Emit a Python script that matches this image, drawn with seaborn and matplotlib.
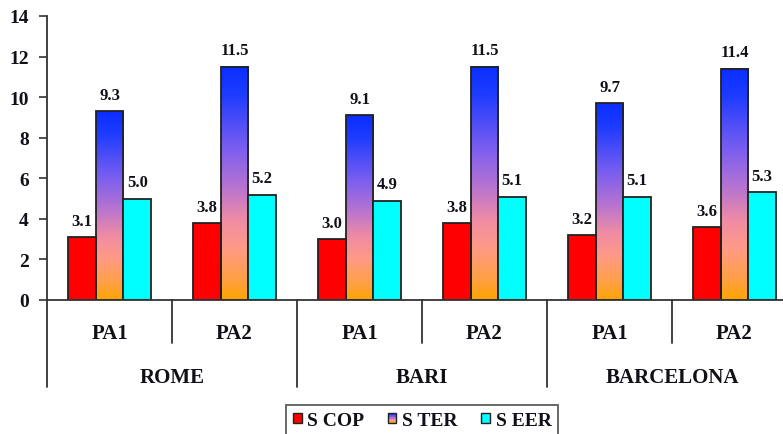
import numpy as np
import pandas as pd
import matplotlib
matplotlib.use("Agg")
import matplotlib.pyplot as plt
import seaborn as sns
from matplotlib.colors import LinearSegmentedColormap, to_rgb
from matplotlib.patches import Patch, Rectangle
from matplotlib.legend_handler import HandlerBase
from matplotlib.transforms import blended_transform_factory

# ---- data ----
cities = ["ROME", "BARI", "BARCELONA"]
pas = ["PA1", "PA2"]
series = ["S COP", "S TER", "S EER"]
scop = [3.1, 3.8, 3.0, 3.8, 3.2, 3.6]
ster = [9.3, 11.5, 9.1, 11.5, 9.7, 11.4]
seer = [5.0, 5.2, 4.9, 5.1, 5.1, 5.3]
yticks = [0, 2, 4, 6, 8, 10, 12, 14]

cats = [f"{c}|{p}" for c in cities for p in pas]
rows = []
for name, vals in zip(series, [scop, ster, seer]):
    for cat, v in zip(cats, vals):
        rows.append({"cat": cat, "series": name, "value": v})
df = pd.DataFrame(rows)

sns.set_theme(style="white")
plt.rcParams["font.family"] = ["Liberation Serif", "DejaVu Serif"]
plt.rcParams["font.weight"] = "bold"

RED = "#FF0000"
CYAN = "#00FFFF"
STER_KEY = "#7F7F7F"
grad = LinearSegmentedColormap.from_list(
    "ster", [(0.0, "#0A2EFF"), (0.12, "#1E3CFF"), (0.35, "#7A5EF0"),
             (0.52, "#B874D0"), (0.66, "#F08CA4"), (0.78, "#FF9A86"),
             (0.92, "#FFA040"), (1.0, "#FFA500")])
TXT = "#101018"
EDGE = "#222222"

W, H = 783, 435
fig = plt.figure(figsize=(W / 100, H / 100), dpi=100)
fig.patch.set_facecolor("white")
ax_l, ax_b, ax_w, ax_h = 47, 134, 750, 284
ax = fig.add_axes([ax_l / W, ax_b / H, ax_w / W, ax_h / H])

sns.barplot(data=df, x="cat", y="value", hue="series", order=cats,
            hue_order=series, palette=[RED, STER_KEY, CYAN], width=0.665,
            edgecolor=EDGE, linewidth=1.3, saturation=1, legend=False,
            errorbar=None, ax=ax)

# gradient fill for S TER bars
for p in list(ax.patches):
    if np.allclose(p.get_facecolor()[:3], to_rgb(STER_KEY)):
        x0, y0 = p.get_x(), p.get_y()
        w, h = p.get_width(), p.get_height()
        ax.imshow(np.linspace(0, 1, 256).reshape(-1, 1), cmap=grad,
                  extent=[x0, x0 + w, y0, y0 + h], aspect="auto",
                  interpolation="bilinear", zorder=p.get_zorder() - 0.1)
        p.set_facecolor("none")

ax.set_xlim(-0.5, len(cats) - 0.5)
ax.set_ylim(0, 14)
ax.set_yticks(yticks)
ax.set_yticklabels([str(t) for t in yticks], fontsize=14, fontweight="bold",
                   color=TXT)
ax.tick_params(axis="y", direction="out", length=6, width=1.2, color="#333",
               pad=7, left=True)
ax.set_xticks([])
ax.set_xlabel("")
ax.set_ylabel("")
for s in ["top", "right"]:
    ax.spines[s].set_visible(False)
for s in ["left", "bottom"]:
    ax.spines[s].set_color("#333")
    ax.spines[s].set_linewidth(1.3)

# value labels
for cont, vals in zip(ax.containers, [scop, ster, seer]):
    ax.bar_label(cont, labels=[f"{v:.1f}" for v in vals], padding=6,
                 fontsize=12, fontweight="bold", color=TXT,
                 bbox=dict(facecolor="white", edgecolor="none", pad=1.0),
                 zorder=10)

# multi-level category axis
tr = blended_transform_factory(ax.transData, ax.transAxes)
short_y = -43 / ax_h
long_y = -87 / ax_h
for i in range(len(cats) + 1):
    xb = i - 0.5
    if i % 2 == 0:
        ax.plot([xb, xb], [0, long_y], color="#333", lw=1.3, transform=tr,
                clip_on=False)
    else:
        ax.plot([xb, xb], [0, short_y], color="#333", lw=1.3, transform=tr,
                clip_on=False)
for i, cat in enumerate(cats):
    ax.text(i, -33 / ax_h, cat.split("|")[1], transform=tr, ha="center",
            va="center", fontsize=15, fontweight="bold", color=TXT)
for j, c in enumerate(cities):
    ax.text(2 * j + 0.5, -77 / ax_h, c, transform=tr, ha="center",
            va="center", fontsize=15, fontweight="bold", color=TXT)


# legend
class GradHandler(HandlerBase):
    def create_artists(self, legend, orig_handle, xdescent, ydescent,
                       width, height, fontsize, trans):
        n = 16
        arts = []
        for k in range(n):
            r = Rectangle((-xdescent, -ydescent + height * (1 - (k + 1) / n)),
                          width, height / n, facecolor=grad(k / (n - 1)),
                          edgecolor="none", transform=trans)
            arts.append(r)
        arts.append(Rectangle((-xdescent, -ydescent), width, height,
                              facecolor="none", edgecolor=EDGE, lw=1.0,
                              transform=trans))
        return arts


h_cop = Patch(facecolor=RED, edgecolor=EDGE, lw=1.0)
h_ter = Patch(facecolor="none", edgecolor=EDGE)
h_eer = Patch(facecolor=CYAN, edgecolor=EDGE, lw=1.0)
leg = fig.legend([h_cop, h_ter, h_eer], series, loc="upper left",
                 bbox_to_anchor=(286 / W, 1 - 406 / H), ncol=3,
                 frameon=True, fancybox=False, edgecolor="#333",
                 handlelength=0.45, handleheight=0.45, handletextpad=0.3,
                 columnspacing=1.2, borderaxespad=0, borderpad=0.35,
                 prop={"family": "Liberation Serif", "weight": "bold",
                       "size": 14},
                 handler_map={h_ter: GradHandler()})
leg.get_frame().set_linewidth(1.3)
for t in leg.get_texts():
    t.set_color(TXT)

fig.savefig("out.png", dpi=100, facecolor="white")
